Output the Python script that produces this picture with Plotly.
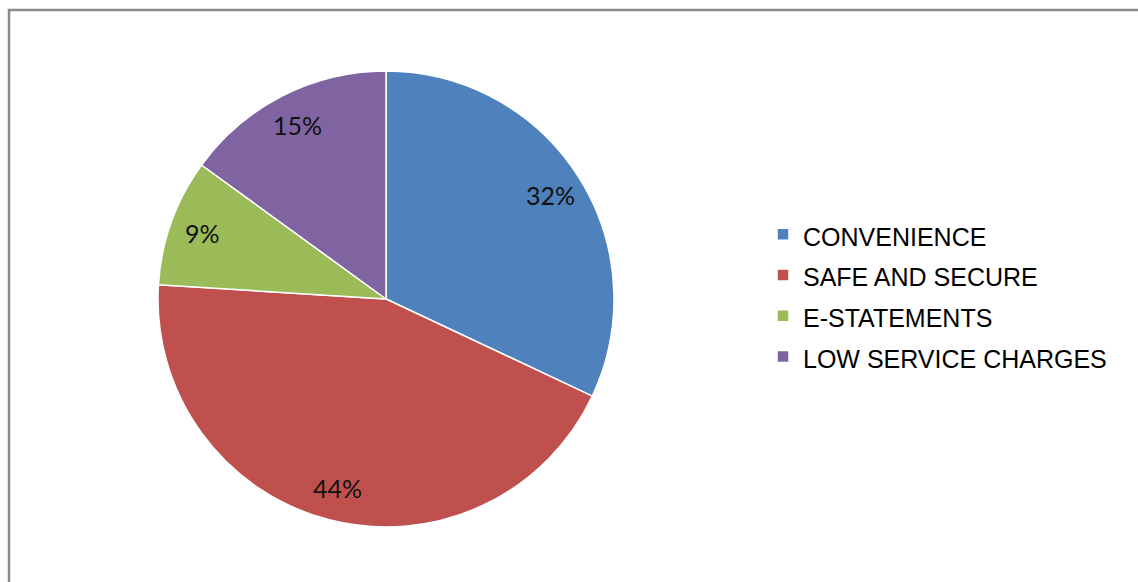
import math
import plotly.graph_objects as go

# Reasons for preferring the service (share of respondents)
categories = ["CONVENIENCE", "SAFE AND SECURE", "E-STATEMENTS", "LOW SERVICE CHARGES"]
shares = [32, 44, 9, 15]
slice_colors = ["#4F81BD", "#C0504D", "#9BBB59", "#8064A2"]

W, H = 1138, 582

# pie geometry in pixels (centre and radius)
cx, cy, r = 386, 299, 228
label_radius = 0.855 * r

# legend labels: larger visible text inside a taller legend line
legend_labels = [f"<span style='font-size:25px'>{c}</span>" for c in categories]

fig = go.Figure(
    go.Pie(
        labels=legend_labels,
        values=shares,
        sort=False,
        direction="clockwise",
        rotation=0,
        marker=dict(colors=slice_colors, line=dict(color="white", width=1.5)),
        textinfo="none",
        hoverinfo="label+percent",
        domain=dict(
            x=[(cx - r) / W, (cx + r) / W],
            y=[1 - (cy + r) / H, 1 - (cy - r) / H],
        ),
    )
)

# percentage labels placed along each slice's bisector, near the rim
total = sum(shares)
annotations = []
start = 0.0
for v in shares:
    mid = (start + v / 2) / total * 2 * math.pi  # clockwise from 12 o'clock
    px = cx + label_radius * math.sin(mid)
    py = cy - label_radius * math.cos(mid)
    annotations.append(
        dict(
            x=px / W,
            y=1 - py / H,
            xref="paper",
            yref="paper",
            xanchor="center",
            yanchor="middle",
            text=f"{v}%",
            showarrow=False,
            font=dict(family="Lato, 'Open Sans', sans-serif", size=25, color="#111111"),
        )
    )
    start += v

fig.update_layout(
    width=W,
    height=H,
    margin=dict(l=0, r=0, t=0, b=0),
    paper_bgcolor="white",
    showlegend=True,
    legend=dict(
        x=763 / W,
        xanchor="left",
        y=1 - 209 / H,
        yanchor="top",
        font=dict(family="'Liberation Sans', Arial, sans-serif", size=29, color="#000000"),
        bgcolor="rgba(0,0,0,0)",
    ),
    annotations=annotations,
    shapes=[
        dict(
            type="rect",
            xref="paper",
            yref="paper",
            x0=9 / W,
            x1=1.05,
            y0=-0.05,
            y1=1 - 10 / H,
            line=dict(color="#8a8a8a", width=2.5),
            fillcolor="rgba(0,0,0,0)",
        )
    ],
)

fig.write_html("out.html")
